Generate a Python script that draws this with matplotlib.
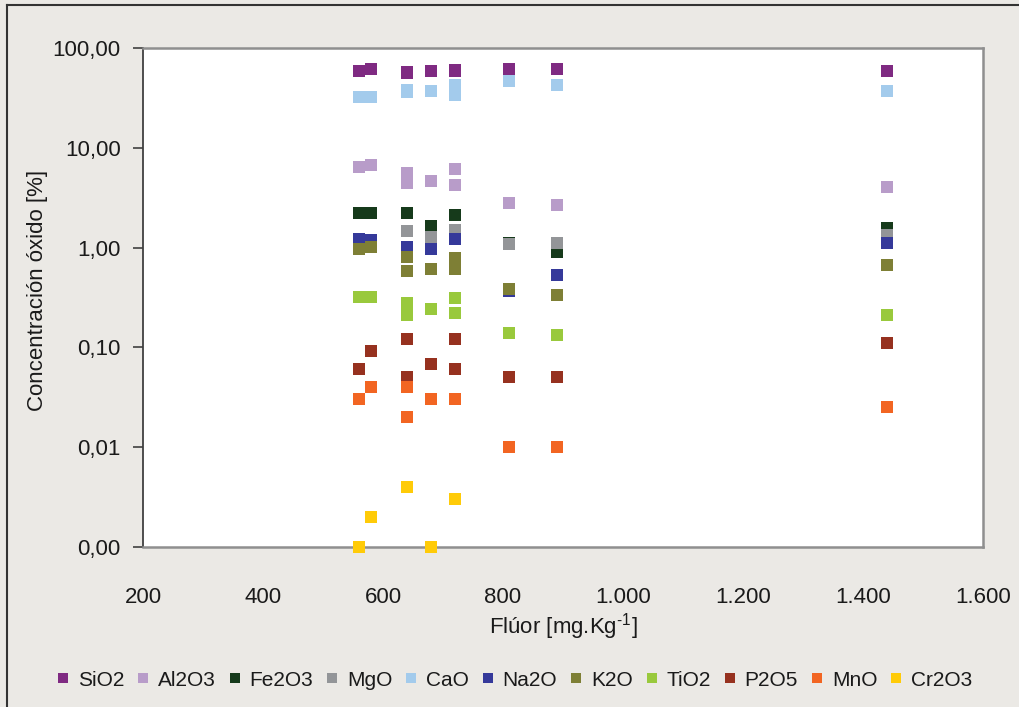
import numpy as np
import matplotlib
matplotlib.use("Agg")
import matplotlib.pyplot as plt
from matplotlib import font_manager
from matplotlib.ticker import FixedLocator, FixedFormatter

# Fluorine content of each sample [mg/kg]
fluor = [560, 580, 640, 640, 680, 720, 720, 810, 890, 1440]

# Oxide concentrations [%] per sample (nan = not detected)
sio2 = [59.2, 61.6, 57.9, 56.5, 59.2, 60.2, 58.5, 61.6, 61.6, 59.2]
al2o3 = [6.47, 6.73, 5.55, 4.41, 4.68, 6.18, 4.27, 2.82, 2.69, 4.07]
fe2o3 = [2.24, 2.24, 2.24, 2.24, 1.66, 2.14, 2.14, 1.12, 0.897, 1.56]
mgo = [1.15, 1.15, 1.47, 1.47, 1.29, 1.50, 1.50, 1.08, 1.12, 1.34]
cao = [32.5, 32.5, 37.9, 36.5, 37.3, 42.6, 33.8, 47.1, 42.9, 37.3]
na2o = [1.22, 1.19, 1.02, 1.02, 0.975, 1.23, 1.23, 0.37, 0.535, 1.12]
k2o = [0.97, 1.02, 0.81, 0.587, 0.615, 0.78, 0.61, 0.385, 0.337, 0.674]
tio2 = [0.322, 0.322, 0.281, 0.213, 0.244, 0.31, 0.223, 0.140, 0.134, 0.213]
p2o5 = [0.0612, 0.0927, 0.122, 0.0508, 0.0677, 0.122, 0.0612, 0.0508, 0.0508, 0.111]
mno = [0.0306, 0.0404, 0.0404, 0.0202, 0.0306, 0.0306, 0.0306, 0.0101, 0.0101, 0.0255]
cr2o3 = [0.001, 0.00201, 0.00402, 0.00402, 0.001, 0.00305, 0.00305, np.nan, np.nan, np.nan]

series = [
    ("SiO2", sio2, "#7f2a82"),
    ("Al2O3", al2o3, "#b89cc9"),
    ("Fe2O3", fe2o3, "#163a1b"),
    ("MgO", mgo, "#939598"),
    ("CaO", cao, "#a3cbec"),
    ("Na2O", na2o, "#35399a"),
    ("K2O", k2o, "#7e7f35"),
    ("TiO2", tio2, "#99c93c"),
    ("P2O5", p2o5, "#96311f"),
    ("MnO", mno, "#f26522"),
    ("Cr2O3", cr2o3, "#ffcb08"),
]

y_ticks = [0.001, 0.01, 0.1, 1, 10, 100]
y_labels = ["0,00", "0,01", "0,10", "1,00", "10,00", "100,00"]
x_ticks = [200, 400, 600, 800, 1000, 1200, 1400, 1600]
x_labels = ["200", "400", "600", "800", "1.000", "1.200", "1.400", "1.600"]

available = {f.name for f in font_manager.fontManager.ttflist}
families = [f for f in ["Liberation Sans Narrow", "Liberation Sans", "DejaVu Sans"] if f in available]
plt.rcParams["font.family"] = families
plt.rcParams["mathtext.fontset"] = "custom"
plt.rcParams["mathtext.rm"] = families[0]
FS = 16
TXT = "#1a1a1a"

fig = plt.figure(figsize=(10.19, 7.07), dpi=100, facecolor="#ebe9e5")
ax = fig.add_axes([143 / 1019, 1 - 547 / 707, (983 - 143) / 1019, (547 - 48) / 707])
ax.set_facecolor("white")

for name, vals, color in series:
    ax.plot(fluor, vals, linestyle="none", marker="s", markersize=9,
            markerfacecolor=color, markeredgewidth=0, color=color,
            label=name, clip_on=False, zorder=5)

ax.set_yscale("log")
ax.set_ylim(0.001, 100)
ax.set_xlim(200, 1600)
ax.yaxis.set_major_locator(FixedLocator(y_ticks))
ax.yaxis.set_major_formatter(FixedFormatter(y_labels))
ax.yaxis.set_minor_locator(FixedLocator([]))
ax.xaxis.set_major_locator(FixedLocator(x_ticks))
ax.xaxis.set_major_formatter(FixedFormatter(x_labels))

ax.tick_params(axis="y", direction="out", length=7, width=1.2, color="#404040",
               labelsize=FS, pad=9, labelcolor=TXT)
ax.tick_params(axis="x", length=0, labelsize=FS, pad=29, labelcolor=TXT)

ax.spines["left"].set_color("#404040")
ax.spines["left"].set_linewidth(1.3)
for s in ("top", "right", "bottom"):
    ax.spines[s].set_color("#8f8f8f")
    ax.spines[s].set_linewidth(1.8)

ax.set_xlabel(r"Flúor [mg.Kg$^{\mathrm{\text{-}1}}$]", fontsize=FS, color=TXT, labelpad=2)
fig.text(38 / 1019, 1 - 290 / 707, "Concentración óxido [%]", rotation=90,
         ha="center", va="center", fontsize=FS, color=TXT)

handles, labels = ax.get_legend_handles_labels()
leg = fig.legend(handles, labels, loc="center", bbox_to_anchor=(0.505, 1 - 680 / 707),
                 ncol=11, frameon=False, fontsize=15, handlelength=0.6,
                 handletextpad=0.4, columnspacing=0.62, markerscale=0.85)
for t in leg.get_texts():
    t.set_color(TXT)

# outer frame of the figure
fig.add_artist(plt.Line2D([7 / 1019, 7 / 1019], [0, 1 - 5 / 707], transform=fig.transFigure,
                          color="#333333", linewidth=1.5))
fig.add_artist(plt.Line2D([7 / 1019, 1], [1 - 5 / 707, 1 - 5 / 707], transform=fig.transFigure,
                          color="#333333", linewidth=1.5))

fig.savefig("out.png", dpi=100, facecolor=fig.get_facecolor())
